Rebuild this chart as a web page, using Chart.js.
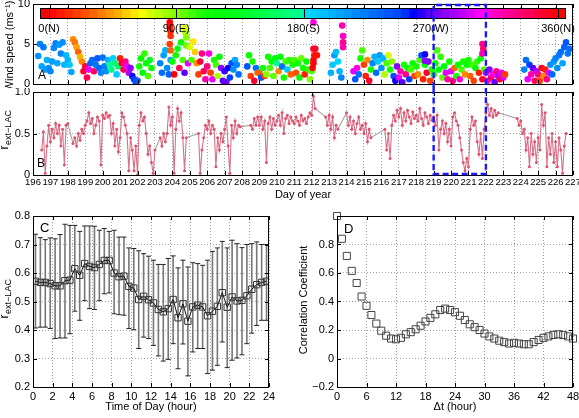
<!DOCTYPE html>
<html>
<head>
<meta charset="utf-8">
<script src="https://cdn.jsdelivr.net/npm/chart.js@4.4.1/dist/chart.umd.min.js"></script>
<style>
  body { margin: 0; background: #fff; }
  #fig { position: relative; width: 579px; height: 418px; overflow: hidden; }
  #fig canvas { position: absolute; }
</style>
</head>
<body>
<div id="fig">
  <canvas id="cA" width="579" height="88" style="left:0px;top:0px"></canvas>
  <canvas id="cB" width="579" height="118" style="left:0px;top:88px"></canvas>
  <canvas id="cC" width="290" height="212" style="left:0px;top:206px"></canvas>
  <canvas id="cD" width="289" height="212" style="left:290px;top:206px"></canvas>
</div>
<script>
const n = null;

// A/B share a time axis: one sample every 0.1 day from day 196.0
const dayStart = 196, dayStep = 0.1;
const dayTicks = [196,197,198,199,200,201,202,203,204,205,206,207,208,209,210,211,
  212,213,214,215,216,217,218,219,220,221,222,223,224,225,226,227];
const boxDays = [219, 222];

// panel A: wind speed (m/s) and wind direction (deg), per 0.1 day
const windSpeed = [
  n,n,n,3.5,5.0,2.2,4.6,1.8,3.0,2.0,        // 196
  1.6,2.8,4.5,5.1,2.6,4.9,3.8,5.2,2.4,3.6,  // 197
  3.0,2.4,1.5,5.6,5.2,4.6,4.0,3.4,2.8,1.6,  // 198
  2.2,0.8,1.8,2.6,3.0,1.6,2.4,3.2,2.0,1.4,  // 199
  3.3,2.2,1.6,3.0,2.4,1.8,3.2,2.6,1.2,2.2,  // 200
  3.2,2.6,1.8,2.8,2.2,1.4,2.0,1.0,0.6,0.2,  // 201
  0.4,2.2,3.2,1.4,3.8,2.6,1.0,3.0,2.0,n,    // 202
  n,n,n,2.6,1.4,3.6,4.2,2.0,1.2,3.0,        // 203
  2.8,1.2,3.6,4.4,2.0,5.2,3.0,1.4,4.8,2.6,  // 204
  4.6,3.0,5.3,4.0,2.6,1.2,2.8,3.8,1.6,0.6,  // 205
  2.2,3.8,1.4,0.6,3.0,2.4,1.0,3.4,2.0,0.4,  // 206
  1.6,0.2,2.0,0.8,2.6,1.8,3.0,2.4,1.2,n,    // 207
  n,n,n,2.2,3.6,1.0,2.8,0.4,2.0,1.4,        // 208
  1.4,0.8,2.0,1.0,1.2,3.4,2.0,2.8,1.0,3.2,  // 209
  2.6,1.6,3.4,2.2,0.8,2.8,1.8,3.0,1.2,2.4,  // 210
  3.0,1.4,2.6,0.8,3.2,2.0,1.2,2.8,1.8,0.6,  // 211
  1.6,2.6,4.4,3.6,n,n,n,n,n,n,              // 212
  n,1.4,2.4,3.6,4.0,2.8,1.6,0.8,n,n,        // 213
  n,n,n,n,1.6,0.6,2.0,1.2,3.2,4.2,          // 214
  2.4,1.0,3.0,0.4,1.8,2.6,3.4,1.4,2.8,3.6,  // 215
  2.0,3.2,1.2,2.6,3.6,1.8,2.8,1.0,0.4,2.2,  // 216
  0.8,1.6,0.2,2.4,1.2,2.0,0.6,1.8,2.6,1.0,  // 217
  2.2,1.2,3.0,3.6,0.6,2.4,1.4,2.8,0.4,1.8,  // 218
  1.2,2.6,4.2,1.8,3.4,0.8,2.2,1.4,0.6,2.8,  // 219
  1.6,0.4,2.0,1.0,2.4,0.6,1.8,2.8,1.2,2.4,  // 220
  3.0,1.0,2.4,0.4,2.0,2.8,1.4,3.2,0.6,1.8,  // 221
  1.4,0.4,1.8,0.8,1.2,0.2,1.6,1.0,0.6,1.4,  // 222
  0.8,1.2,n,n,n,n,n,n,n,n,                  // 223
  n,n,1.8,3.0,0.6,2.4,1.2,2.0,0.4,1.6,      // 224
  1.2,0.4,2.0,1.0,1.8,0.6,1.4,2.4,1.2,2.8,  // 225
  3.2,2.0,3.6,4.0,2.6,4.6,5.2,3.8,4.4,n     // 226
];
const windDir = [
  n,n,n,215,220,205,225,210,200,215,
  220,210,218,222,205,212,220,215,200,195,
  200,190,205,40,35,45,30,50,40,350,
  345,340,300,235,230,340,225,240,230,220,
  230,225,215,200,180,175,185,170,190,160,
  10,350,340,330,300,290,280,260,250,245,
  240,110,115,125,105,120,100,130,115,n,
  n,n,n,220,230,210,200,215,235,205,
  120,0,110,130,340,115,100,270,95,300,
  70,100,60,55,40,20,350,330,340,320,
  330,310,20,300,110,100,80,120,280,270,
  265,275,260,250,240,215,205,220,230,n,
  n,n,n,240,120,20,110,350,230,30,
  30,240,110,20,90,110,100,120,95,130,
  180,40,120,230,110,100,190,105,30,110,
  100,25,115,120,95,110,10,125,105,90,
  100,0,355,5,n,n,n,n,n,n,
  n,200,190,210,195,185,200,220,n,n,
  n,n,n,n,300,240,310,230,110,100,
  20,10,40,350,110,220,200,230,190,210,
  215,200,80,100,70,110,90,240,260,280,
  300,320,270,110,330,120,250,100,115,20,
  110,40,100,240,10,120,350,280,20,110,
  110,120,100,115,105,95,125,300,320,110,
  300,330,30,110,120,310,100,110,40,115,
  110,30,100,20,120,105,10,115,350,100,
  300,320,280,340,310,270,330,290,350,300,
  300,20,n,n,n,n,n,n,n,n,
  n,n,220,230,300,250,320,270,340,290,
  330,20,350,40,10,330,300,215,230,210,
  220,215,225,230,205,235,240,225,230,n
];
// short bursts of higher wind
const spikeDay   = [203.85,203.85,203.9,203.9,203.85,203.9, 204.7,204.75,204.8, 212.05,212.1,212.15,212.1,212.1, 213.75,213.8,213.8,213.8, 221.8,221.85,221.8, 218.5,218.5];
const spikeSpeed = [7.7,7.2,6.6,6.0,5.0,4.2, 7.0,6.4,5.8, 2.0,3.0,3.6,4.4,7.7, 7.3,6.0,5.2,4.6, 5.0,4.4,3.8, 3.7,2.9];
const spikeDir   = [0,5,10,15,20,30, 70,80,90, 0,355,5,350,310, 320,315,325,320, 330,335,320, 260,280];
const windTicks = [0, 5, 10];
const dirTicks = [0, 90, 180, 270, 360];
const dirLabels = ['0(N)', '90(E)', '180(S)', '270(W)', '360(N)'];

// panel B: r ext-LAC, per 0.1 day (null = no data)
const rVal = [
  n,n,n,n,n,0.30,0.52,0.02,0.35,0.60,               // 196
  0.40,0.55,0.45,0.62,0.50,0.60,0.35,0.55,0.12,0.60, // 197
  0.62,n,n,0.38,0.45,0.35,0.50,0.42,0.55,0.50,       // 198
  0.60,0.65,0.75,0.62,0.68,0.50,0.60,0.70,0.65,0.12, // 199
  0.72,0.68,0.75,0.70,0.72,0.50,0.62,0.35,0.55,0.28, // 200
  0.45,0.75,0.70,0.60,0.50,0.05,0.45,0.30,0.05,0.35, // 201
  0.00,0.60,0.75,0.65,0.70,0.50,0.25,0.35,0.15,0.02, // 202
  0.30,n,n,0.45,0.35,0.50,0.40,0.50,0.82,0.60,       // 203
  0.70,0.02,0.55,0.80,0.65,0.75,0.45,0.05,0.45,n,    // 204
  n,n,n,n,n,0.50,0.02,0.30,0.45,0.60,                // 205
  0.55,0.65,0.50,0.60,0.55,0.10,0.45,0.30,0.50,0.40, // 206
  0.55,0.70,0.35,0.02,0.60,0.45,0.65,0.50,0.60,0.58, // 207
  n,n,n,n,n,0.60,0.55,0.68,0.60,0.70,                // 208
  0.60,0.70,0.55,0.65,0.15,0.62,0.70,0.55,0.68,0.60, // 209
  0.65,0.72,0.60,0.75,0.50,0.68,0.72,0.62,0.70,0.65, // 210
  0.62,0.70,0.65,0.60,0.72,0.65,0.68,0.62,0.70,0.75, // 211
  0.72,0.95,0.80,n,n,n,n,n,0.70,0.60,                // 212
  0.72,0.55,0.70,0.45,0.60,0.55,n,n,n,n,             // 213
  0.75,0.60,0.70,0.55,0.65,0.50,0.62,0.70,0.55,0.60, // 214
  0.50,0.62,0.40,0.55,0.45,n,n,n,n,n,                // 215
  n,n,0.55,0.30,0.50,0.20,0.60,0.72,0.65,0.78,       // 216
  0.70,0.80,0.60,0.75,0.65,0.78,0.70,0.62,0.76,0.68, // 217
  0.72,0.65,0.80,0.68,0.60,0.75,0.70,0.62,0.72,0.66, // 218
  0.70,0.60,0.72,0.30,0.55,0.65,0.50,0.62,0.40,0.55, // 219
  0.35,0.70,0.75,0.65,0.60,0.45,0.30,0.15,0.05,0.20, // 220
  0.10,0.55,0.70,0.60,0.65,0.40,0.25,0.50,0.20,0.55, // 221
  0.75,0.85,0.72,0.80,0.70,0.78,0.72,0.75,n,n,       // 222
  n,n,n,n,n,n,n,n,0.68,0.60,                         // 223
  0.65,0.50,0.55,0.30,0.45,0.10,0.50,0.25,0.40,0.15, // 224
  0.45,0.30,0.85,0.60,0.75,0.10,0.45,0.25,0.50,0.15, // 225
  0.40,0.10,0.45,0.30,0.02,0.35,0.50,n,n,n           // 226
];
const rTicks = [0, 0.5, 1];

// panel C: diurnal mean with spread
const cHour = [0.25,0.75,1.25,1.75,2.25,2.75,3.25,3.75,4.25,4.75,5.25,5.75,6.25,6.75,7.25,7.75,
  8.25,8.75,9.25,9.75,10.25,10.75,11.25,11.75,12.25,12.75,13.25,13.75,14.25,14.75,15.25,15.75,
  16.25,16.75,17.25,17.75,18.25,18.75,19.25,19.75,20.25,20.75,21.25,21.75,22.25,22.75,23.25,23.75];
const cMean = [0.571,0.567,0.567,0.563,0.555,0.555,0.573,0.575,0.615,0.592,0.633,0.623,0.619,0.630,0.644,0.644,
  0.600,0.587,0.589,0.553,0.547,0.507,0.518,0.506,0.495,0.472,0.464,0.475,0.507,0.443,0.492,0.431,
  0.481,0.487,0.481,0.450,0.466,0.483,0.531,0.480,0.516,0.502,0.504,0.520,0.543,0.559,0.567,0.571];
const cUpper = [0.736,0.724,0.717,0.723,0.720,0.735,0.771,0.767,0.767,0.746,0.765,0.765,0.764,0.750,0.756,0.746,
  0.750,0.726,0.726,0.688,0.686,0.678,0.668,0.659,0.645,0.630,0.630,0.651,0.660,0.618,0.645,0.621,
  0.636,0.633,0.627,0.645,0.676,0.688,0.711,0.688,0.715,0.703,0.689,0.700,0.703,0.709,0.700,0.700];
const cLower = [0.407,0.410,0.410,0.405,0.370,0.372,0.372,0.387,0.466,0.434,0.503,0.475,0.472,0.503,0.527,0.530,
  0.457,0.454,0.452,0.405,0.401,0.335,0.375,0.370,0.346,0.309,0.291,0.297,0.352,0.264,0.351,0.239,
  0.323,0.335,0.335,0.247,0.259,0.276,0.358,0.268,0.294,0.302,0.313,0.352,0.389,0.416,0.434,0.434];
const cXTicks = [0,2,4,6,8,10,12,14,16,18,20,22,24];
const cYTicks = [0.2,0.3,0.4,0.5,0.6,0.7,0.8];

// panel D: autocorrelation vs lag
const dLag = [0,1,2,3,4,5,6,7,8,9,10,11,12,13,14,15,16,17,18,19,20,21,22,23,24,
  25,26,27,28,29,30,31,32,33,34,35,36,37,38,39,40,41,42,43,44,45,46,47,48];
const dCorr = [1.0,0.84,0.72,0.615,0.53,0.435,0.37,0.305,0.245,0.195,
  0.16,0.14,0.135,0.145,0.17,0.185,0.205,0.23,0.26,0.285,
  0.31,0.34,0.35,0.34,0.325,0.3,0.27,0.24,0.22,0.2,
  0.175,0.155,0.14,0.125,0.115,0.105,0.11,0.105,0.1,0.1,
  0.115,0.13,0.145,0.155,0.165,0.17,0.165,0.155,0.14];
const dXTicks = [0,6,12,18,24,30,36,42,48];
const dYTicks = [-0.2,0,0.2,0.4,0.6,0.8,1];

// ---------------------------------------------------------------
const FONT = "'Liberation Sans', Arial, Helvetica, sans-serif";
Chart.defaults.font.family = FONT;
Chart.defaults.font.size = 11;
Chart.defaults.color = '#000';
Chart.defaults.animation = false;

// circular colour map for direction
const hueDir = [0,27,48,61,71,90,109,140,180,181,250,258,272,293,312,341,360];
const hueVal = [0,20,40,55,70,90,115,130,155,188,225,240,265,285,310,340,360];
function dirColor(d) {
  d = Math.max(0, Math.min(360, d));
  let k = 1;
  while (k < hueDir.length - 1 && d > hueDir[k]) k++;
  const t = (d - hueDir[k-1]) / (hueDir[k] - hueDir[k-1]);
  const h = hueVal[k-1] + t * (hueVal[k] - hueVal[k-1]);
  return 'hsl(' + h.toFixed(1) + ',100%,50%)';
}

const windPts = [], windCols = [];
windSpeed.forEach((s, i) => {
  if (s === null) return;
  windPts.push({x: dayStart + i * dayStep, y: s});
  windCols.push(dirColor(windDir[i]));
});
spikeDay.forEach((d, i) => {
  windPts.push({x: d, y: spikeSpeed[i]});
  windCols.push(dirColor(spikeDir[i]));
});
const rPts = rVal.map((v, i) => ({x: dayStart + i * dayStep, y: v}));

// axis helpers
function axis(min, max, ticks, fit, extra) {
  return Object.assign({
    type: 'linear', min: min, max: max,
    afterBuildTicks: s => { s.ticks = ticks.map(v => ({value: v})); },
    afterFit: s => { fit(s); s.paddingLeft = s.paddingRight = s.paddingTop = s.paddingBottom = 0; },
    grid: {color: '#8c8c8c', lineWidth: 0.8, drawTicks: false},
    border: {display: false, dash: [1, 2]},
    ticks: {padding: 3, autoSkip: false, maxRotation: 0, minRotation: 0}
  }, extra || {});
}

// box + inward ticks, matlab style
const tickFrame = {
  id: 'tickFrame',
  afterDraw(chart, args, o) {
    const {ctx, chartArea: a} = chart, xs = chart.scales.x, ys = chart.scales.y, L = o.len || 4;
    ctx.save();
    ctx.strokeStyle = '#000'; ctx.lineWidth = 1; ctx.setLineDash([]);
    ctx.beginPath();
    xs.ticks.forEach(t => {
      const p = Math.round(xs.getPixelForValue(t.value)) + 0.5;
      ctx.moveTo(p, a.bottom); ctx.lineTo(p, a.bottom - L);
      ctx.moveTo(p, a.top); ctx.lineTo(p, a.top + L);
    });
    ys.ticks.forEach(t => {
      const p = Math.round(ys.getPixelForValue(t.value)) + 0.5;
      ctx.moveTo(a.left, p); ctx.lineTo(a.left + L, p);
      ctx.moveTo(a.right, p); ctx.lineTo(a.right - L, p);
    });
    ctx.stroke();
    ctx.strokeRect(Math.round(a.left) + 0.5, Math.round(a.top) + 0.5, Math.round(a.width) - 1, Math.round(a.height));
    ctx.restore();
  }
};

function deco(fn) { return {id: 'deco', afterDraw: fn}; }

function drawRotated(ctx, text, x, cy, size) {
  ctx.save();
  ctx.translate(x, cy); ctx.rotate(-Math.PI / 2);
  ctx.font = size + 'px ' + FONT; ctx.textAlign = 'center'; ctx.textBaseline = 'alphabetic';
  ctx.fillStyle = '#000';
  ctx.fillText(text, 0, 0);
  ctx.restore();
}
function drawRTitle(ctx, x, cy) {
  ctx.save();
  ctx.translate(x, cy); ctx.rotate(-Math.PI / 2);
  ctx.fillStyle = '#000'; ctx.textAlign = 'left'; ctx.textBaseline = 'alphabetic';
  ctx.font = '12px ' + FONT; const w1 = ctx.measureText('r').width;
  ctx.font = '9px ' + FONT; const w2 = ctx.measureText('ext\u2212LAC').width;
  const s = -(w1 + w2) / 2;
  ctx.font = '12px ' + FONT; ctx.fillText('r', s, 0);
  ctx.font = '9px ' + FONT; ctx.fillText('ext\u2212LAC', s + w1 + 0.5, 3.5);
  ctx.restore();
}
function drawText(ctx, text, x, y, size, align) {
  ctx.save();
  ctx.fillStyle = '#000'; ctx.font = size + 'px ' + FONT;
  ctx.textAlign = align || 'center'; ctx.textBaseline = 'middle';
  ctx.fillText(text, x, y);
  ctx.restore();
}
function drawLetter(ctx, text, x, y, size) {
  ctx.save();
  ctx.fillStyle = '#000'; ctx.font = size + 'px ' + FONT;
  ctx.textAlign = 'left'; ctx.textBaseline = 'alphabetic';
  ctx.fillText(text, x, y);
  ctx.restore();
}

// dashed selection box spanning A and B
function dashedBox(isTop) {
  return {
    id: 'dashedBox',
    afterDraw(chart) {
      const {ctx, chartArea: a} = chart, xs = chart.scales.x;
      const x1 = xs.getPixelForValue(boxDays[0]), x2 = xs.getPixelForValue(boxDays[1]);
      ctx.save();
      ctx.strokeStyle = '#1a1aff'; ctx.lineWidth = 2.4; ctx.setLineDash([6, 3.5]);
      ctx.beginPath();
      if (isTop) {
        ctx.moveTo(x1, chart.height); ctx.lineTo(x1, a.top + 1); ctx.lineTo(x2, a.top + 1); ctx.lineTo(x2, chart.height);
      } else {
        ctx.moveTo(x1, 0); ctx.lineTo(x1, a.bottom - 1); ctx.lineTo(x2, a.bottom - 1); ctx.lineTo(x2, 0);
      }
      ctx.stroke();
      ctx.restore();
    }
  };
}

// direction colour bar inside panel A
const colorBar = {
  id: 'colorBar',
  afterDatasetsDraw(chart) {
    const {ctx, chartArea: a} = chart;
    const left = a.left + 7, right = a.right - 8, top = a.top + 4, h = 11;
    const x0 = left + 9, x360 = right - 7;
    const cells = 64, cw = (right - left) / cells;
    ctx.save();
    for (let k = 0; k < cells; k++) {
      const xm = left + (k + 0.5) * cw;
      ctx.fillStyle = dirColor((xm - x0) / (x360 - x0) * 360);
      ctx.fillRect(left + k * cw, top, cw + 0.6, h);
    }
    ctx.strokeStyle = '#000'; ctx.lineWidth = 1;
    ctx.strokeRect(Math.round(left) + 0.5, top + 0.5, Math.round(right - left), h - 1);
    ctx.beginPath();
    dirTicks.forEach(d => {
      const x = Math.round(x0 + d / 360 * (x360 - x0)) + 0.5;
      ctx.moveTo(x, top); ctx.lineTo(x, top + h);
    });
    ctx.stroke();
    ctx.restore();
    dirTicks.forEach((d, i) => drawText(ctx, dirLabels[i], x0 + d / 360 * (x360 - x0), top + h + 9.5, 11));
  }
};

// panel C error bars
const errBars = {
  id: 'errBars',
  beforeDatasetsDraw(chart) {
    const {ctx} = chart, xs = chart.scales.x, ys = chart.scales.y;
    ctx.save();
    cHour.forEach((hr, i) => {
      const x = xs.getPixelForValue(hr), y1 = ys.getPixelForValue(cLower[i]), y2 = ys.getPixelForValue(cUpper[i]);
      ctx.strokeStyle = '#777'; ctx.lineWidth = 1.6;
      ctx.beginPath(); ctx.moveTo(x, y1); ctx.lineTo(x, y2); ctx.stroke();
      ctx.strokeStyle = '#222'; ctx.lineWidth = 1;
      ctx.beginPath();
      ctx.moveTo(x - 2.5, y1); ctx.lineTo(x + 2.5, y1);
      ctx.moveTo(x - 2.5, y2); ctx.lineTo(x + 2.5, y2);
      ctx.stroke();
    });
    ctx.restore();
  }
};

const noUi = {legend: {display: false}, tooltip: {enabled: false}};

// ---- A: wind ----
new Chart(document.getElementById('cA'), {
  type: 'scatter',
  data: {datasets: [{data: windPts, pointBackgroundColor: windCols, pointBorderWidth: 0, pointRadius: 3.3}]},
  options: {
    responsive: false, animation: false, devicePixelRatio: 1,
    layout: {padding: {top: 4, right: 6, left: 0, bottom: 0}},
    plugins: Object.assign({tickFrame: {len: 4}}, noUi),
    scales: {
      x: axis(196, 227, dayTicks, s => { s.height = 3; },
        {ticks: {display: false}}),
      y: axis(0, 10, windTicks, s => { s.width = 33; })
    }
  },
  plugins: [colorBar, tickFrame, deco(chart => {
    const {ctx, chartArea: a} = chart;
    drawLetter(ctx, 'A', a.left + 5, a.bottom - 5, 12);
    drawRotated(ctx, 'Wind speed (ms\u207B\u00B9)', 12.5, 46, 11);
  }), dashedBox(true)]
});

// ---- B: r ext-LAC time series ----
// dense stretches drawn pink, bridges over missing data grey
const gapGrey = ctx => ((ctx.p0.skip || ctx.p1.skip) ? '#a0a0a0' : undefined);
new Chart(document.getElementById('cB'), {
  type: 'line',
  data: {datasets: [{data: rPts, spanGaps: true, borderColor: '#d8728a', borderWidth: 1.1,
    segment: {borderColor: gapGrey},
    pointRadius: 1.5, pointBackgroundColor: '#e2506a', pointBorderWidth: 0, tension: 0}]},
  options: {
    responsive: false, animation: false, devicePixelRatio: 1,
    layout: {padding: {top: 4, right: 6, left: 0, bottom: 0}},
    plugins: Object.assign({tickFrame: {len: 4}}, noUi),
    scales: {
      x: axis(196, 227, dayTicks, s => { s.height = 31; },
        {ticks: {padding: 2, autoSkip: false, maxRotation: 0, minRotation: 0, font: {size: 9.5}}}),
      y: axis(0, 1, rTicks, s => { s.width = 33; })
    }
  },
  plugins: [tickFrame, deco(chart => {
    const {ctx, chartArea: a} = chart;
    drawLetter(ctx, 'B', a.left + 4, a.bottom - 8, 12);
    drawRTitle(ctx, 7.5, 42);
    drawText(ctx, 'Day of year', (a.left + a.right) / 2, 107, 11);
  }), dashedBox(false)]
});

// ---- C: diurnal cycle ----
new Chart(document.getElementById('cC'), {
  type: 'line',
  data: {datasets: [{data: cHour.map((h, i) => ({x: h, y: cMean[i]})), borderColor: '#111', borderWidth: 1,
    pointStyle: 'rect', pointRadius: 4.5, pointBorderColor: '#333', pointBorderWidth: 1,
    pointBackgroundColor: 'rgba(0,0,0,0)', tension: 0}]},
  options: {
    responsive: false, animation: false, devicePixelRatio: 1,
    layout: {padding: {top: 10, right: 21, left: 0, bottom: 0}},
    plugins: Object.assign({tickFrame: {len: 4}}, noUi),
    scales: {
      x: axis(0, 24, cXTicks, s => { s.height = 31; }),
      y: axis(0.2, 0.8, cYTicks, s => { s.width = 33; })
    }
  },
  plugins: [errBars, tickFrame, deco(chart => {
    const {ctx, chartArea: a} = chart;
    drawLetter(ctx, 'C', a.left + 7, a.top + 16, 13);
    drawRTitle(ctx, 7.5, 93);
    drawText(ctx, 'Time of Day (hour)', (a.left + a.right) / 2, 201, 11);
  })]
});

// ---- D: autocorrelation ----
new Chart(document.getElementById('cD'), {
  type: 'scatter',
  data: {datasets: [{data: dLag.map((l, i) => ({x: l, y: dCorr[i]})), clip: false,
    pointStyle: 'rect', pointRadius: 5, pointBorderColor: '#444', pointBorderWidth: 1,
    pointBackgroundColor: 'rgba(0,0,0,0)'}]},
  options: {
    responsive: false, animation: false, devicePixelRatio: 1,
    layout: {padding: {top: 10, right: 6, left: 0, bottom: 0}},
    plugins: Object.assign({tickFrame: {len: 4}}, noUi),
    scales: {
      x: axis(0, 48, dXTicks, s => { s.height = 31; }),
      y: axis(-0.2, 1, dYTicks, s => { s.width = 47; },
        {ticks: {padding: 3, callback: v => v === 1 ? '' : (v === 0 ? '0' : String(v).replace('-', '\u2212'))}})
    }
  },
  plugins: [tickFrame, deco(chart => {
    const {ctx, chartArea: a} = chart;
    drawLetter(ctx, 'D', a.left + 7, a.top + 17, 13);
    drawRotated(ctx, 'Correlation Coefficient', 17, 94, 11);
    drawText(ctx, '\u0394t (hour)', (a.left + a.right) / 2, 201, 11);
  })]
});
</script>
</body>
</html>
